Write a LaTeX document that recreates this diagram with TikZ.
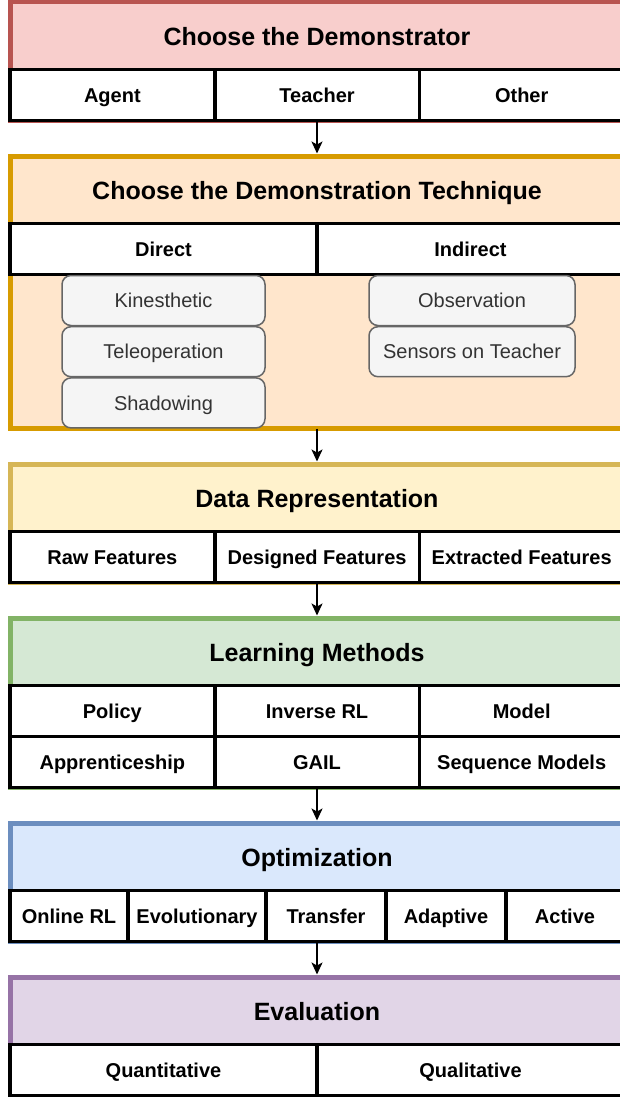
\documentclass[tikz,border=0pt]{standalone}
\usepackage{fontspec}
\setmainfont{Liberation Sans}
\usepackage{tikz}
\usetikzlibrary{
    arrows.meta,
    calc,
    positioning,
}
\definecolor{RedFill}{HTML}{F8CECC}
\definecolor{RedLine}{HTML}{B85450}
\definecolor{OrangeFill}{HTML}{FFE6CC}
\definecolor{OrangeLine}{HTML}{D79B00}
\definecolor{YellowFill}{HTML}{FFF2CC}
\definecolor{YellowLine}{HTML}{D6B656}
\definecolor{GreenFill}{HTML}{D5E8D4}
\definecolor{GreenLine}{HTML}{82B366}
\definecolor{BlueFill}{HTML}{DAE8FC}
\definecolor{BlueLine}{HTML}{6C8EBF}
\definecolor{PurpleFill}{HTML}{E1D5E7}
\definecolor{PurpleLine}{HTML}{9673A6}
\definecolor{GrayFill}{HTML}{F5F5F5}
\definecolor{GrayLine}{HTML}{666666}
\definecolor{GrayText}{HTML}{333333}
\tikzstyle{stage}=[draw,rectangle,line width=5pt,minimum width=614pt,inner sep=0pt,outer sep=0pt]
\tikzstyle{stage title}=[font=\fontsize{25}{30}\selectfont\bfseries,text height=17.9pt,text depth=0pt,inner sep=0pt]
\tikzstyle{cell}=[draw,rectangle,fill=white,line width=3.6pt,minimum height=51pt,inner sep=1pt,outer sep=0pt,text height=14.3pt,text depth=0pt,font=\fontsize{20}{24}\selectfont\bfseries]
\tikzstyle{method}=[draw=GrayLine,fill=GrayFill,text=GrayText,rectangle,rounded corners=9pt,line width=1.5pt,minimum width=203pt,minimum height=50pt,inner sep=1pt,outer sep=0pt,text height=14.3pt,text depth=0pt,font=\fontsize{20}{24}\selectfont]
\tikzset{
    >={Stealth[length=12pt,width=11pt,inset=3pt]}
}
\newcommand{\Stage}[3][]{%
    \node[stage,#1] (#2) {};
    \node[stage title,yshift=-34.5pt] at (#2.north) {#3};
}

\begin{document}
\begin{tikzpicture}[x=1pt,y=-1pt,node distance=35.5pt]
    \useasboundingbox (0,0) rectangle (620,1097);
    \clip (0,0) rectangle (620,1097);

    % Demonstrator
    \Stage[draw=RedLine,fill=RedFill,minimum height=118.5pt,anchor=north,at={(317,2)}]{Demonstrator}{Choose the Demonstrator};
    \node[cell,minimum width=204.7pt,anchor=north west,yshift=-67.5pt] (Agent) at (Demonstrator.north west) {Agent};
    \node[cell,minimum width=204.7pt,right=0pt of Agent] (Teacher) {Teacher};
    \node[cell,minimum width=204.6pt,right=0pt of Teacher] (Other) {Other};

    % Technique
    \Stage[draw=OrangeLine,fill=OrangeFill,minimum height=272.5pt,below=of Demonstrator]{Technique}{Choose the Demonstration Technique};
    \node[cell,minimum width=307pt,anchor=north west,yshift=-67.5pt] (Direct) at (Technique.north west) {Direct};
    \node[cell,minimum width=307pt,right=0pt of Direct] (Indirect) {Indirect};
    \node[method,below=1pt of Direct] (Kinesthetic) {Kinesthetic};
    \node[method,below=1.2pt of Kinesthetic] (Teleoperation) {Teleoperation};
    \node[method,below=1.2pt of Teleoperation] (Shadowing) {Shadowing};
    \node[method,minimum width=206pt,below=1pt of Indirect,xshift=1.5pt] (Observation) {Observation};
    \node[method,minimum width=206pt,below=1.2pt of Observation] (Sensors on Teacher) {Sensors on Teacher};

    % Data
    \Stage[draw=YellowLine,fill=YellowFill,minimum height=118.5pt,below=of Technique]{Data}{Data Representation};
    \node[cell,minimum width=204.7pt,anchor=north west,yshift=-67.5pt] (Raw Features) at (Data.north west) {Raw Features};
    \node[cell,minimum width=204.7pt,right=0pt of Raw Features] (Designed Features) {Designed Features};
    \node[cell,minimum width=204.6pt,right=0pt of Designed Features] (Extracted Features) {Extracted Features};

    % Learning
    \Stage[draw=GreenLine,fill=GreenFill,minimum height=169.5pt,below=of Data]{Learning}{Learning Methods};
    \node[cell,minimum width=204.7pt,anchor=north west,yshift=-67.5pt] (Policy) at (Learning.north west) {Policy};
    \node[cell,minimum width=204.7pt,right=0pt of Policy] (Inverse RL) {Inverse RL};
    \node[cell,minimum width=204.6pt,right=0pt of Inverse RL] (Model) {Model};
    \node[cell,minimum width=204.7pt,below=0pt of Policy] (Apprenticeship) {Apprenticeship};
    \node[cell,minimum width=204.7pt,right=0pt of Apprenticeship] (GAIL) {GAIL};
    \node[cell,minimum width=204.6pt,right=0pt of GAIL] (Sequence Models) {Sequence Models};

    % Optimization
    \Stage[draw=BlueLine,fill=BlueFill,minimum height=118.5pt,below=of Learning]{Optimization}{Optimization};
    \node[cell,minimum width=118pt,anchor=north west,yshift=-67.5pt] (Online RL) at (Optimization.north west) {Online RL};
    \node[cell,minimum width=138pt,right=0pt of Online RL] (Evolutionary) {Evolutionary};
    \node[cell,minimum width=120pt,right=0pt of Evolutionary] (Transfer) {Transfer};
    \node[cell,minimum width=120pt,right=0pt of Transfer] (Adaptive) {Adaptive};
    \node[cell,minimum width=118pt,right=0pt of Adaptive] (Active) {Active};

    % Evaluation
    \Stage[draw=PurpleLine,fill=PurpleFill,minimum height=118.5pt,below=of Optimization]{Evaluation}{Evaluation};
    \node[cell,minimum width=307pt,anchor=north west,yshift=-67.5pt] (Quantitative) at (Evaluation.north west) {Quantitative};
    \node[cell,minimum width=307pt,right=0pt of Quantitative] (Qualitative) {Qualitative};

    % Flow
    \draw[->,line width=1.6pt,shorten >=2.5pt] (Demonstrator.south) -- (Technique.north);
    \draw[->,line width=1.6pt,shorten >=2.5pt] (Technique.south) -- (Data.north);
    \draw[->,line width=1.6pt,shorten >=2.5pt] (Data.south) -- (Learning.north);
    \draw[->,line width=1.6pt,shorten >=2.5pt] (Learning.south) -- (Optimization.north);
    \draw[->,line width=1.6pt,shorten >=2.5pt] (Optimization.south) -- (Evaluation.north);
\end{tikzpicture}
\end{document}
